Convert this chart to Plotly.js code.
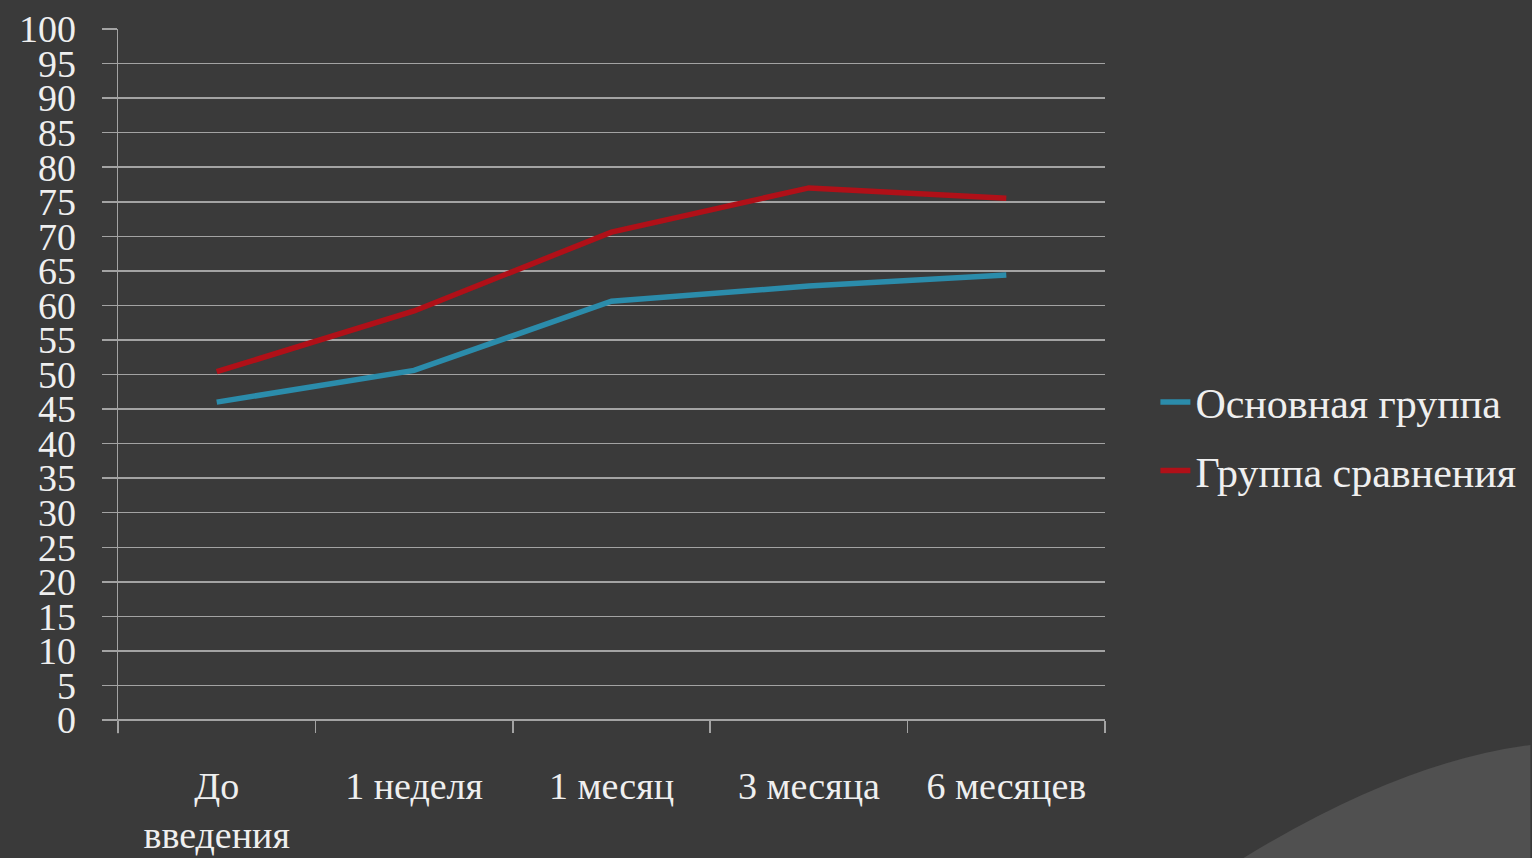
<!DOCTYPE html>
<html>
<head>
<meta charset="utf-8">
<script src="https://cdn.plot.ly/plotly-3.0.1.min.js"></script>
<style>
html,body{margin:0;padding:0;background:#3a3a3a;}
#chart{width:1532px;height:858px;}
</style>
</head>
<body>
<div id="chart"></div>
<script>
const categories = ["До<br>введения", "1 неделя", "1 месяц", "3 месяца", "6 месяцев"];
const mainGroup = [46, 50.6, 60.6, 62.8, 64.4];
const compareGroup = [50.4, 59.2, 70.6, 77, 75.5];
const seriesNames = ["Основная группа", "Группа сравнения"];
const yTicks = [0,5,10,15,20,25,30,35,40,45,50,55,60,65,70,75,80,85,90,95,100];

const serif = "'Liberation Serif', 'Times New Roman', serif";
const textColor = "#efefef";
const gridColor = "#a3a3a3";

const data = [
  {x: categories, y: mainGroup, name: seriesNames[0], type: "scatter", mode: "lines",
   line: {color: "#2b8cab", width: 5.5}, legendgroup: "a"},
  {x: categories, y: compareGroup, name: seriesNames[1], type: "scatter", mode: "lines",
   line: {color: "#b01018", width: 5.5}, legendgroup: "b"}
];

const layout = {
  width: 1532, height: 858,
  paper_bgcolor: "#3a3a3a", plot_bgcolor: "#3a3a3a",
  margin: {l: 118, r: 426, t: 29, b: 138},
  font: {family: serif, color: textColor},
  showlegend: true,
  legend: {x: 1.05, xanchor: "left", y: 0.41, yanchor: "middle",
           font: {family: serif, size: 42, color: textColor},
           bgcolor: "rgba(0,0,0,0)", tracegroupgap: 11, itemwidth: 30},
  xaxis: {type: "category", range: [-0.5, 4.5], showgrid: false,
          showline: false, zeroline: false,
          ticks: "outside", tickson: "boundaries", ticklen: 12, tickwidth: 1.5, tickcolor: gridColor,
          tickfont: {family: serif, size: 38, color: textColor}, ticklabelstandoff: 40},
  yaxis: {range: [0, 100], tickvals: yTicks, ticktext: yTicks.map(String),
          showgrid: true, gridcolor: gridColor, gridwidth: 1.5,
          zeroline: true, zerolinecolor: gridColor, zerolinewidth: 1.5,
          showline: true, linecolor: gridColor, linewidth: 1.5,
          ticks: "outside", ticklen: 15, tickwidth: 1.5, tickcolor: gridColor,
          tickfont: {family: serif, size: 38, color: textColor}, ticklabelstandoff: 18},
  shapes: [{type: "path", xref: "paper", yref: "paper", layer: "below",
            path: "M 1.14,-0.2 Q 1.30,-0.06 1.431,-0.036 L 1.431,-0.2 Z",
            fillcolor: "#505050", line: {width: 0}},
           {type: "line", xref: "paper", yref: "paper", x0: 0, x1: 0, y0: -0.019, y1: 0,
            line: {color: gridColor, width: 1.5}}]
};

Plotly.newPlot("chart", data, layout, {displayModeBar: false, staticPlot: true});
</script>
</body>
</html>
